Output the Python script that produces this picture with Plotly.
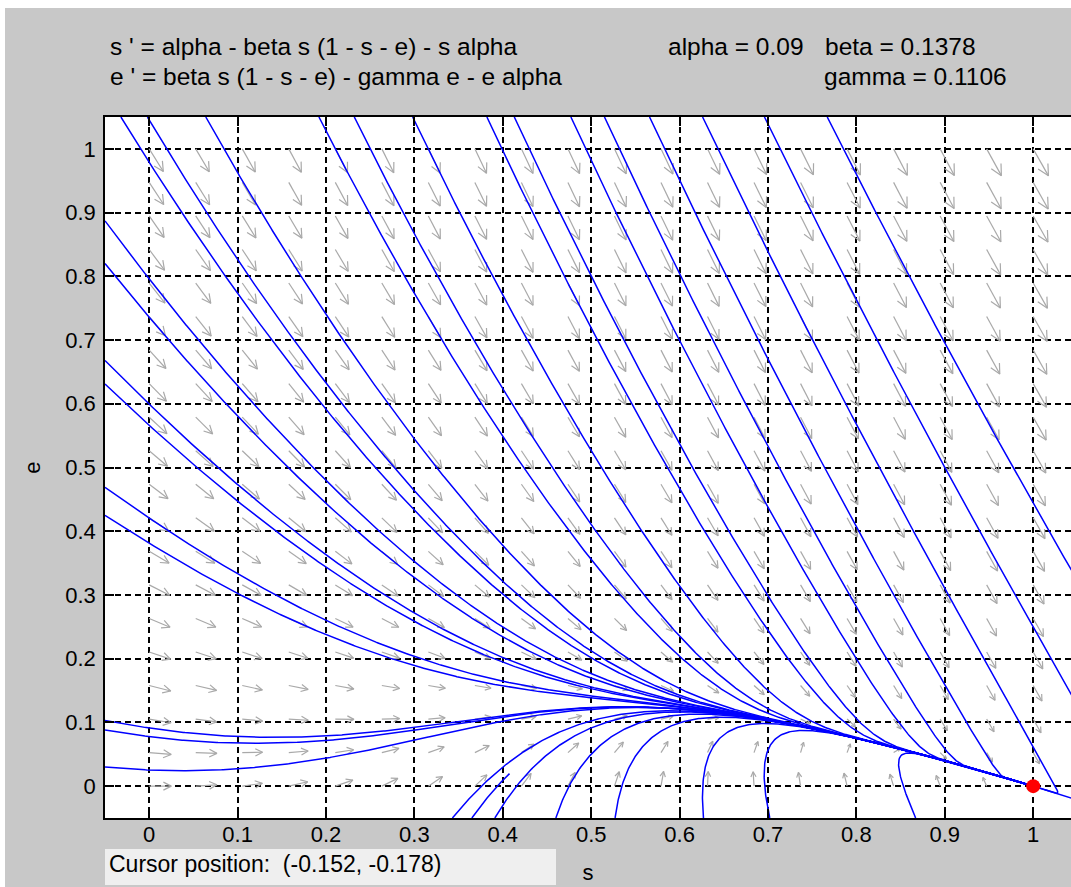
import math
import numpy as np
import plotly.graph_objects as go

# ---------------- model parameters (shown in the chart header) ----------------
ALPHA = 0.09
BETA = 0.1378
GAMMA = 0.1106

# ---------------- trajectory start points ----------------
# curves entering through the top edge (e = 1.05): their s values
TOP_ENTRY_S = [-0.032, -0.002, 0.064, 0.192, 0.232, 0.298, 0.382, 0.413,
               0.477, 0.515, 0.566, 0.626, 0.696, 0.767]
TOP_ENTRY_E = 1.05
# curves entering through the left edge (s = -0.05): their e values
LEFT_ENTRY_S = -0.05
LEFT_ENTRY_E = [0.887, 0.820, 0.668, 0.631, 0.469, 0.425, 0.103, 0.088, 0.030]
# curves entering through the bottom edge (e = -0.05): their s values
BOTTOM_ENTRY_S = [0.343, 0.391, 0.460, 0.527, 0.627, 0.702, 0.867]
BOTTOM_ENTRY_E = -0.05
# one short (truncated) solution segment
SHORT_START = (0.365, -0.05)
SHORT_STOP_S = 0.407

EQUILIBRIUM_S = [1.0]
EQUILIBRIUM_E = [0.0]

TICK_VALUES = [0, 0.1, 0.2, 0.3, 0.4, 0.5, 0.6, 0.7, 0.8, 0.9, 1]
TICK_LABELS = ["0", "0.1", "0.2", "0.3", "0.4", "0.5", "0.6", "0.7", "0.8", "0.9", "1"]

FIELD_S = np.linspace(0.0, 1.0, 20)
FIELD_E = np.linspace(0.0, 1.0, 20)

# ---------------- layout geometry ----------------
W, H = 1071, 887
ML, MT, MR, MB = 105, 117, 0, 69
PLOT_W = W - ML - MR
PLOT_H = H - MT - MB
X0 = -0.05
PX_PER_S = 884.0
X1 = X0 + PLOT_W / PX_PER_S
Y0, Y1 = -0.05, 1.05
PX_PER_E = PLOT_H / (Y1 - Y0)


def px_to_paper(px, py):
    return (px - ML) / PLOT_W, (H - MB - py) / PLOT_H


def field(s, e):
    g = BETA * s * (1 - s - e)
    return ALPHA - g - s * ALPHA, g - GAMMA * e - e * ALPHA


def trajectory(s, e, stop_s=None, max_steps=8000):
    xs, ys = [s], [e]
    for _ in range(max_steps):
        ds, de = field(s, e)
        v = math.hypot(ds * PX_PER_S, de * PX_PER_E)
        if v < 1e-12:
            break
        h = min(1.5 / v, 5.0)
        k1 = field(s, e)
        k2 = field(s + h / 2 * k1[0], e + h / 2 * k1[1])
        k3 = field(s + h / 2 * k2[0], e + h / 2 * k2[1])
        k4 = field(s + h * k3[0], e + h * k3[1])
        s += h / 6 * (k1[0] + 2 * k2[0] + 2 * k3[0] + k4[0])
        e += h / 6 * (k1[1] + 2 * k2[1] + 2 * k3[1] + k4[1])
        xs.append(s)
        ys.append(e)
        if stop_s is not None and s >= stop_s:
            break
        if math.hypot((s - EQUILIBRIUM_S[0]) * PX_PER_S, (e - EQUILIBRIUM_E[0]) * PX_PER_E) < 0.5:
            break
    return xs, ys


starts = ([(s, TOP_ENTRY_E, None) for s in TOP_ENTRY_S]
          + [(LEFT_ENTRY_S, e, None) for e in LEFT_ENTRY_E]
          + [(s, BOTTOM_ENTRY_E, None) for s in BOTTOM_ENTRY_S]
          + [(SHORT_START[0], SHORT_START[1], SHORT_STOP_S)])

traj_x, traj_y = [], []
for s0, e0, stop in starts:
    xs, ys = trajectory(s0, e0, stop)
    traj_x += xs + [None]
    traj_y += ys + [None]

# ---------------- direction field arrows ----------------
SS, EE = np.meshgrid(FIELD_S, FIELD_E)
DS, DE = field(SS, EE)
PXV = DS * PX_PER_S
PYV = DE * PX_PER_E
V = np.hypot(PXV, PYV)
L = 31.0 * (V / V.max()) ** 0.3
UX, UY = PXV / V, PYV / V
head_len = 0.4 * L
ang = math.radians(27)

arr_x, arr_y = [], []
for i in range(SS.shape[0]):
    for j in range(SS.shape[1]):
        s0, e0 = SS[i, j], EE[i, j]
        ux, uy, l, hl = UX[i, j], UY[i, j], L[i, j], head_len[i, j]
        hx = s0 + l * ux / PX_PER_S
        hy = e0 + l * uy / PX_PER_E
        arr_x += [s0, hx, None]
        arr_y += [e0, hy, None]
        bx, by = -ux, -uy
        pts = []
        for a in (ang, -ang):
            rx = bx * math.cos(a) - by * math.sin(a)
            ry = bx * math.sin(a) + by * math.cos(a)
            pts.append((hx + hl * rx / PX_PER_S, hy + hl * ry / PX_PER_E))
        arr_x += [pts[0][0], hx, pts[1][0], None]
        arr_y += [pts[0][1], hy, pts[1][1], None]

fig = go.Figure()
fig.add_trace(go.Scatter(x=arr_x, y=arr_y, mode="lines",
                         line=dict(color="#a9a9a9", width=1.2), hoverinfo="skip"))
fig.add_trace(go.Scatter(x=traj_x, y=traj_y, mode="lines",
                         line=dict(color="#0000ff", width=1.5), hoverinfo="skip"))
fig.add_trace(go.Scatter(x=EQUILIBRIUM_S, y=EQUILIBRIUM_E, mode="markers",
                         marker=dict(color="#ff0000", size=14, line=dict(width=0)),
                         cliponaxis=False, hoverinfo="skip"))

FONT = "Liberation Sans, Arial, sans-serif"
axis_common = dict(
    tickvals=TICK_VALUES, ticktext=TICK_LABELS,
    ticks="inside", ticklen=9, tickwidth=1.5, tickcolor="black",
    showline=True, linecolor="black", linewidth=1.5,
    showgrid=True, gridcolor="black", gridwidth=1.5, griddash="6px,4px",
    zeroline=False, automargin=False,
    tickfont=dict(family=FONT, size=22, color="black"),
)
fig.update_xaxes(range=[X0, X1], mirror="ticks", ticklabelstandoff=-4,
                 title=dict(text="s", font=dict(family=FONT, size=22, color="black"), standoff=18),
                 **axis_common)
fig.update_yaxes(range=[Y0, Y1], mirror=False, ticklabelstandoff=3,
                 title=dict(text="e", font=dict(family=FONT, size=22, color="black"), standoff=19),
                 **axis_common)

shapes = []
# white strips at top and left of the window
x_a, y_a = px_to_paper(0, 0)
x_b, y_b = px_to_paper(W, 8)
shapes.append(dict(type="rect", xref="paper", yref="paper", x0=x_a, x1=x_b, y0=y_b, y1=y_a,
                   fillcolor="white", line=dict(width=0), layer="below"))
x_a, y_a = px_to_paper(0, 0)
x_b, y_b = px_to_paper(5, H)
shapes.append(dict(type="rect", xref="paper", yref="paper", x0=x_a, x1=x_b, y0=y_b, y1=y_a,
                   fillcolor="white", line=dict(width=0), layer="below"))
# cursor position box
x_a, y_a = px_to_paper(105, 849)
x_b, y_b = px_to_paper(556, 885)
shapes.append(dict(type="rect", xref="paper", yref="paper", x0=x_a, x1=x_b, y0=y_b, y1=y_a,
                   fillcolor="#efefef", line=dict(width=0), layer="below"))

annotations = []


def add_text(text, px, py, size=24.5):
    xp, yp = px_to_paper(px, py)
    annotations.append(dict(text=text, xref="paper", yref="paper", x=xp, y=yp,
                            xanchor="left", yanchor="middle", showarrow=False,
                            font=dict(family=FONT, size=size, color="black")))


add_text("s ' = alpha - beta s (1 - s - e) - s alpha", 108, 46)
add_text("e ' = beta s (1 - s - e) - gamma e - e alpha", 108, 76)
add_text("alpha = 0.09", 666, 46)
add_text("beta = 0.1378", 823, 46)
add_text("gamma = 0.1106", 822, 76)
add_text("Cursor position:  (-0.152, -0.178)", 107, 864, size=23)

fig.update_layout(
    width=W, height=H,
    margin=dict(l=ML, r=MR, t=MT, b=MB, pad=0, autoexpand=False),
    paper_bgcolor="#c8c8c8", plot_bgcolor="white",
    showlegend=False, shapes=shapes, annotations=annotations,
    font=dict(family=FONT, size=22, color="black"),
)

fig.write_html("out.html")
